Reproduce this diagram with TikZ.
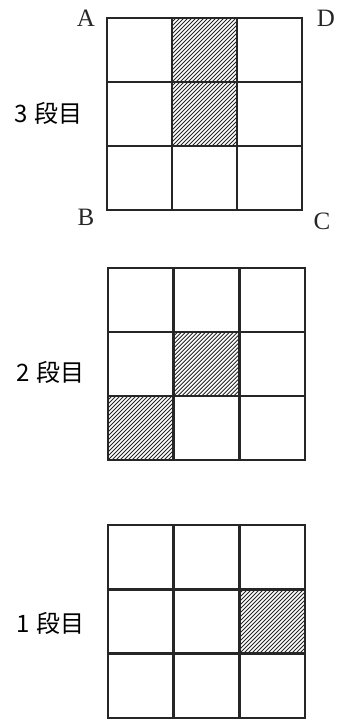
\documentclass[tikz,border=0pt]{standalone}
\usepackage{fontspec}
\newfontfamily\jpfont{Noto Sans CJK JP}
\newfontfamily\serifletters{Liberation Serif}
\newcommand\hatchcell[4]{%
  \begin{scope}
    \clip (#1,#2) rectangle ({#1+#3},{#2+#4});
    \foreach \k in {-84,-80,...,84} \draw[hatchline] ({#1+\k},{#2+#4}) -- ++(84,-84);
  \end{scope}}
\newcommand\gridthree[4]{%
  \draw[gridline] (#1,#2) rectangle (#3,#4);
  \draw[gridline] ({#1+(#3-#1)/3},#2) -- ({#1+(#3-#1)/3},#4);
  \draw[gridline] ({#1+2*(#3-#1)/3},#2) -- ({#1+2*(#3-#1)/3},#4);
  \draw[gridline] (#1,{#2+(#4-#2)/3}) -- (#3,{#2+(#4-#2)/3});
  \draw[gridline] (#1,{#2+2*(#4-#2)/3}) -- (#3,{#2+2*(#4-#2)/3});}
\begin{document}
\begin{tikzpicture}[x=1pt,y=-1pt,
  gridline/.style={line width=2.6pt, line cap=rect, draw=black!85},
  hatchline/.style={line width=0.9pt, draw=black!85},
  lab/.style={font=\jpfont\fontsize{24}{24}\selectfont, anchor=west, inner sep=0pt},
  corner/.style={font=\serifletters\fontsize{25}{25}\selectfont, inner sep=0pt, text=black!85}]
\useasboundingbox (0,0) rectangle (338,721);
% grid 1 (3段目): x 107-302, y 18-210
\hatchcell{172}{18}{65}{64}
\hatchcell{172}{82}{65}{64}
\gridthree{107}{18}{302}{210}
% grid 2 (2段目): x 108-305, y 268-460
\hatchcell{173.7}{332}{65.7}{64}
\hatchcell{108}{396}{65.7}{64}
\gridthree{108}{268}{305}{460}
% grid 3 (1段目): x 108-305, y 525-718
\hatchcell{239.3}{589.3}{65.7}{64.3}
\gridthree{108}{525}{305}{718}
% labels
\node[lab] (l3) at (14,113) {3\hspace{0.3em}段目};
\node[lab] (l2) at (16,372) {2\hspace{0.3em}段目};
\node[lab] (l1) at (16,623) {1\hspace{0.3em}段目};
\node[corner] (A) at (86,18) {A};
\node[corner] (D) at (326,18) {D};
\node[corner] (B) at (86,217) {B};
\node[corner] (C) at (322,221) {C};
\end{tikzpicture}
\end{document}
